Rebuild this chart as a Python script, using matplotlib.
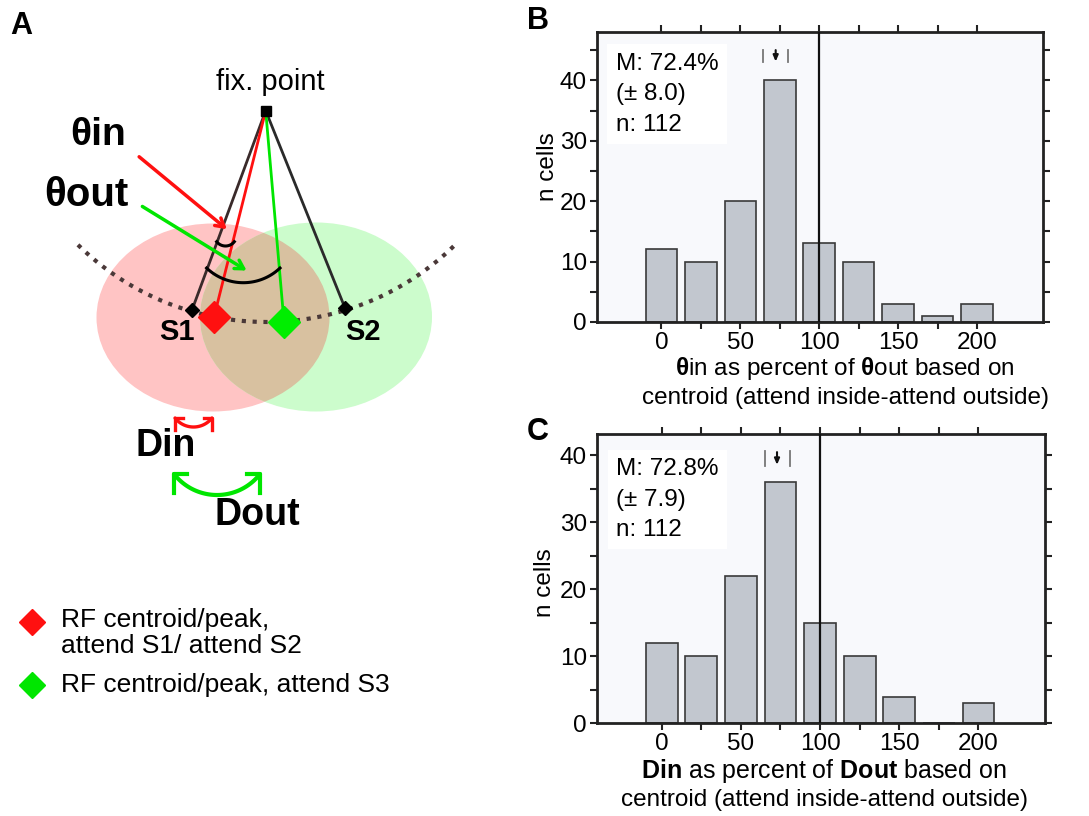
import numpy as np
import matplotlib
matplotlib.use('Agg')
import matplotlib.pyplot as plt
from matplotlib.patches import Ellipse

plt.rcParams['font.family'] = ['Liberation Sans', 'DejaVu Sans']
plt.rcParams['mathtext.fontset'] = 'custom'
plt.rcParams['mathtext.rm'] = 'Liberation Sans'
plt.rcParams['mathtext.bf'] = 'Liberation Sans:bold'

# histogram data (bin centres in percent, counts)
bins = [0, 25, 50, 75, 100, 125, 150, 175, 200]
counts_theta = [12, 10, 20, 40, 13, 10, 3, 1, 3]
counts_dist = [12, 10, 22, 36, 15, 10, 4, 0, 3]
mean_theta, se_theta = 72.4, 8.0
mean_dist, se_dist = 72.8, 7.9
n_cells = 112

BAR = '#c2c7cf'
BG = '#f8f9fc'
FS = 17.5

fig = plt.figure(figsize=(10.89, 8.16), dpi=100)


def hist_panel(rect, counts, mean, se, ylim, marker_y, stats_y):
    ax = fig.add_axes(rect)
    ax.set_facecolor(BG)
    ax.bar(bins, counts, width=20, color=BAR, edgecolor='#3a3a3a', linewidth=1.2, zorder=2)
    ax.axvline(100, color='#111111', lw=1.6, zorder=3)
    ax.set_xlim(-41, 242)
    ax.set_ylim(*ylim)
    ax.set_xticks([0, 50, 100, 150, 200])
    ax.set_xticks([25, 75, 125, 175], minor=True)
    ax.set_yticks([0, 10, 20, 30, 40])
    ax.set_yticks([5, 15, 25, 35, 45] if ylim[1] > 45 else [5, 15, 25, 35], minor=True)
    ax.tick_params(which='both', direction='out', length=5, width=1.5, color='#222222',
                   top=True, right=True, labelsize=FS, pad=2)
    for s in ax.spines.values():
        s.set_linewidth(2)
        s.set_color('#222222')
    # mean +- se marker
    y0, y1 = marker_y
    ax.plot([mean - se] * 2, [y0, y1], color='#777777', lw=1.3)
    ax.plot([mean + se] * 2, [y0, y1], color='#777777', lw=1.3)
    ax.annotate('', xy=(mean, y0 + 0.1), xytext=(mean, y1 - 0.1),
                arrowprops=dict(arrowstyle='-|>,head_length=0.35,head_width=0.15',
                                color='#111111', lw=1.5, shrinkA=0, shrinkB=0))
    ax.text(-29, stats_y, 'M: %.1f%%\n(± %.1f)\nn: %d' % (mean, se, n_cells),
            fontsize=FS, va='top', ha='left', linespacing=1.5, zorder=4,
            bbox=dict(facecolor='white', edgecolor='none', pad=6))
    ax.set_ylabel('n cells', fontsize=FS)
    return ax


axB = hist_panel([0.548, 0.6054, 0.410, 0.3554], counts_theta, mean_theta, se_theta,
                 (0, 48), (43.0, 45.1), 44.6)
axB.yaxis.set_label_coords(-0.085, 0.535)
axB.text(0.556, -0.16, r'$\mathbf{θ}$in as percent of $\mathbf{θ}$out based on',
         transform=axB.transAxes, ha='center', va='center', fontsize=FS)
axB.text(0.556, -0.262, 'centroid (attend inside-attend outside)',
         transform=axB.transAxes, ha='center', va='center', fontsize=FS)

axC = hist_panel([0.548, 0.1136, 0.4116, 0.3545], counts_dist, mean_dist, se_dist,
                 (0, 43.2), (38.5, 40.6), 39.6)
axC.yaxis.set_label_coords(-0.092, 0.488)
axC.text(0.507, -0.165, r'$\mathbf{Din}$ as percent of $\mathbf{Dout}$ based on',
         transform=axC.transAxes, ha='center', va='center', fontsize=FS + 0.5)
axC.text(0.507, -0.265, 'centroid (attend inside-attend outside)',
         transform=axC.transAxes, ha='center', va='center', fontsize=FS)

# panel A schematic, drawn in pixel-like coordinates (y downwards)
axA = fig.add_axes([0, 0, 530 / 1089, 1])
axA.set_xlim(0, 530)
axA.set_ylim(816, 0)
axA.axis('off')

fix = (265.7, 110.7)
s1 = (192, 310)
s2 = (345, 308)
rf_in = (214, 317)
rf_out = (284, 322)

pink = Ellipse((213, 317.5), 233, 188, facecolor='#ffc4c4', edgecolor='none', zorder=1)
green = Ellipse((316, 317), 232, 189, facecolor='#ccfccc', edgecolor='none', zorder=1)
overlap = Ellipse((316, 317), 232, 189, facecolor='#d8c1a0', edgecolor='none', zorder=1.5)
axA.add_patch(pink)
axA.add_patch(green)
axA.add_patch(overlap)
overlap.set_clip_path(pink)

phi = np.radians(np.linspace(-44.5, 44.5, 200))
axA.plot(266.5 + 269 * np.sin(phi), 53 + 269 * np.cos(phi), color='#4a3838',
         lw=3, linestyle=(0, (1, 1.6)), zorder=2)

axA.plot([fix[0], s1[0]], [fix[1], s1[1]], color='#3a2a2a', lw=2, zorder=3)
axA.plot([fix[0], s2[0]], [fix[1], s2[1]], color='#2a2a2a', lw=2, zorder=3)
axA.plot([fix[0], rf_in[0]], [fix[1], rf_in[1]], color='#ff1010', lw=2, zorder=3)
axA.plot([fix[0], rf_out[0]], [fix[1], rf_out[1]], color='#00e600', lw=2, zorder=3)
axA.plot(*fix, marker='s', color='black', ms=7, zorder=4)
axA.plot(*s1, marker='D', color='black', ms=7.5, zorder=4)
axA.plot(*s2, marker='D', color='black', ms=7.5, zorder=4)
axA.plot(*rf_in, marker='D', color='#ff1010', ms=16, zorder=4)
axA.plot(*rf_out, marker='D', color='#00ee00', ms=16, zorder=4)

# angle arcs
phi = np.radians(np.linspace(-52, 52, 60))
axA.plot(225.5 + 11.2 * np.sin(phi), 234.8 + 11.2 * np.cos(phi), color='black', lw=2.2, zorder=3)
phi = np.radians(np.linspace(-43.6, 43.6, 80))
axA.plot(243.3 + 53.2 * np.sin(phi), 229.5 + 53.2 * np.cos(phi), color='black', lw=2.2, zorder=3)

axA.annotate('', xy=(229, 231), xytext=(137, 155),
             arrowprops=dict(arrowstyle='->,head_length=0.6,head_width=0.35', color='#ff1010', lw=2.5))
axA.annotate('', xy=(249, 272), xytext=(140, 205),
             arrowprops=dict(arrowstyle='->,head_length=0.6,head_width=0.35', color='#00e600', lw=2.5))


def bracket(xl, xr, yt, sag, arm_v, arm_h, color, lw):
    h = (xr - xl) / 2
    r = (h ** 2 + sag ** 2) / (2 * sag)
    cx, cy = xl + h, yt + sag - r
    a = np.arcsin(h / r)
    t = np.linspace(-a, a, 60)
    axA.plot(cx + r * np.sin(t), cy + r * np.cos(t), color=color, lw=lw, solid_capstyle='round')
    axA.plot([xl, xl, xl + arm_h], [yt + arm_v, yt, yt], color=color, lw=lw)
    axA.plot([xr, xr, xr - arm_h], [yt + arm_v, yt, yt], color=color, lw=lw)


bracket(175, 212, 418, 9, 12, 8, '#ff1010', 2.4)
bracket(174, 260, 474, 21, 19, 13, '#00e600', 3)

axA.text(270, 82, 'fix. point', fontsize=21, ha='center', va='center')
axA.text(98, 135, 'θin', fontsize=28, fontweight='bold', ha='center', va='center')
axA.text(86, 195, 'θout', fontsize=29, fontweight='bold', ha='center', va='center')
axA.text(177, 332, 'S1', fontsize=21, fontweight='bold', ha='center', va='center')
axA.text(363, 332, 'S2', fontsize=21, fontweight='bold', ha='center', va='center')
axA.text(166, 446, 'Din', fontsize=27, fontweight='bold', ha='center', va='center')
axA.text(257, 515, 'Dout', fontsize=27, fontweight='bold', ha='center', va='center')

axA.plot(32, 622, marker='D', color='#ff1010', ms=13)
axA.plot(32, 685, marker='D', color='#00e600', ms=13)
axA.text(61, 633, 'RF centroid/peak,\nattend S1/ attend S2', fontsize=19,
         ha='left', va='center', linespacing=1.15)
axA.text(61, 685, 'RF centroid/peak, attend S3', fontsize=19, ha='left', va='center')

fig.text(10 / 1089, 1 - 26 / 816, 'A', fontsize=22, fontweight='bold', va='center')
fig.text(527 / 1089, 1 - 21 / 816, 'B', fontsize=22, fontweight='bold', va='center')
fig.text(527 / 1089, 1 - 432 / 816, 'C', fontsize=22, fontweight='bold', va='center')

fig.savefig('out.png', dpi=100)
